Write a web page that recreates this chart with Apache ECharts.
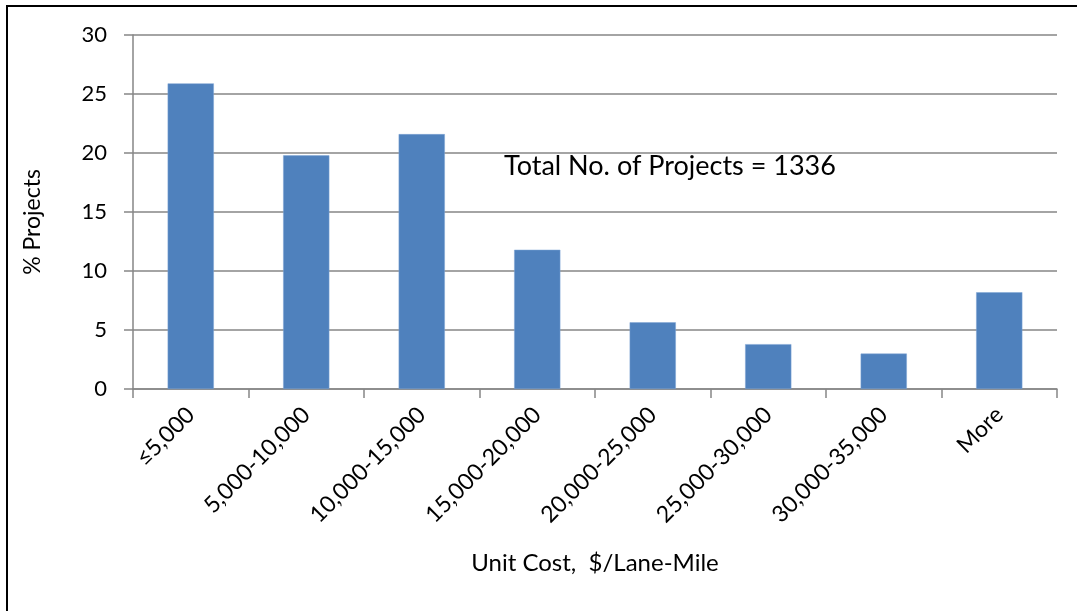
<!DOCTYPE html>
<html>
<head>
<meta charset="utf-8">
<script src="https://cdn.jsdelivr.net/npm/echarts@6/dist/echarts.min.js"></script>
<style>
html,body{margin:0;padding:0;background:#fff;}
#chart{width:1077px;height:611px;}
</style>
</head>
<body>
<div id="chart"></div>
<script>
// categories (unit cost ranges)
var costBins = ['≤5,000', '5,000-10,000', '10,000-15,000', '15,000-20,000',
	'20,000-25,000', '25,000-30,000', '30,000-35,000', 'More'];
// % of projects per range
var pctProjects = [25.9, 19.8, 21.6, 11.8, 5.65, 3.8, 3.0, 8.2];
var yTicks = [0, 5, 10, 15, 20, 25, 30];
var noteText = 'Total No. of Projects = 1336';

var fontFam = 'Lato, "Open Sans", sans-serif';
var gridColor = '#868686';

var myChart = echarts.init(document.getElementById('chart'));
var option = {
	backgroundColor: '#fff',
	animation: false,
	grid: {left: 133, right: 20, top: 35, bottom: 222},
	graphic: [{
		//外框
		type: 'rect',
		shape: {x: 7, y: 6, width: 1200, height: 800},
		style: {fill: 'none', stroke: '#000', lineWidth: 2},
		silent: true
	}, {
		type: 'text',
		left: 504,
		top: 153,
		style: {text: noteText, font: '27px ' + fontFam, fill: '#000'}
	}, {
		//y轴标题
		type: 'text',
		x: 33,
		y: 222,
		rotation: Math.PI / 2,
		style: {text: '% Projects', font: '23px ' + fontFam, fill: '#000',
			align: 'center', verticalAlign: 'middle'}
	}],
	xAxis: {
		type: 'category',
		data: costBins,
		name: 'Unit Cost,  $/Lane-Mile',
		nameLocation: 'middle',
		nameGap: 162,
		nameTextStyle: {fontFamily: fontFam, fontSize: 24, color: '#000'},
		axisLine: {lineStyle: {color: gridColor, width: 1.5}},
		axisTick: {show: true, length: 9, lineStyle: {color: gridColor, width: 1.5}},
		axisLabel: {
			rotate: 45,
			margin: 22,
			fontFamily: fontFam,
			fontSize: 23,
			color: '#000'
		}
	},
	yAxis: {
		type: 'value',
		min: yTicks[0],
		max: yTicks[yTicks.length - 1],
		interval: 5,
		axisLine: {show: true, lineStyle: {color: gridColor, width: 1.5}},
		axisTick: {show: true, length: 9, lineStyle: {color: gridColor, width: 1.5}},
		axisLabel: {margin: 26, fontFamily: fontFam, fontSize: 22, color: '#000'},
		splitLine: {lineStyle: {color: gridColor, width: 1.5}}
	},
	series: [{
		type: 'bar',
		data: pctProjects,
		barWidth: '40%',
		itemStyle: {color: '#4F81BD', borderColor: '#7FA4D4', borderWidth: 0.5}
	}]
};
myChart.setOption(option);
</script>
</body>
</html>
